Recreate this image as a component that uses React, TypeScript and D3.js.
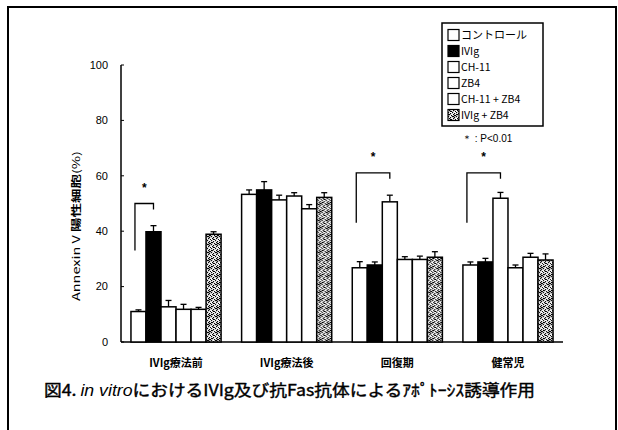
import React from "react";
import * as d3 from "d3";

const categories = ["IVIg療法前", "IVIg療法後", "回復期", "健常児"];
const seriesNames = ["コントロール", "IVIg", "CH-11", "ZB4", "CH-11 + ZB4", "IVIg + ZB4"];
// values[series][category]
const controlVals = [11, 53.3, 26.8, 27.8];
const ivigVals = [39.8, 54.9, 27.8, 28.9];
const ch11Vals = [12.7, 51.3, 50.6, 51.9];
const zb4Vals = [11.8, 52.7, 29.8, 26.8];
const ch11zb4Vals = [11.8, 48.1, 29.8, 30.6];
const ivigzb4Vals = [38.9, 52.2, 30.6, 29.6];
const controlErr = [0.6, 1.6, 2.2, 1.1];
const ivigErr = [2.2, 3.0, 1.1, 1.3];
const ch11Err = [2.3, 1.7, 2.4, 2.1];
const zb4Err = [1.8, 1.2, 1.0, 1.0];
const ch11zb4Err = [0.7, 1.5, 1.2, 1.4];
const ivigzb4Err = [0.9, 1.7, 2.0, 2.2];
const yTicks = [0, 20, 40, 60, 80, 100];
// significance: [category index, series a, series b]
const sigPairs: [number, number, number][] = [
  [0, 0, 1],
  [2, 0, 2],
  [3, 0, 2],
];
const sigLevel = [50, 60, 60];

const allVals = [controlVals, ivigVals, ch11Vals, zb4Vals, ch11zb4Vals, ivigzb4Vals];
const allErr = [controlErr, ivigErr, ch11Err, zb4Err, ch11zb4Err, ivigzb4Err];
const fills = ["#fff", "#000", "#fff", "#fff", "#fff", "url(#stip)"];

export default function App() {
  const x0 = d3
    .scaleBand<string>()
    .domain(categories)
    .range([121, 563])
    .paddingInner(0.1855)
    .paddingOuter(0.09);
  const x1 = d3
    .scaleBand<string>()
    .domain(seriesNames)
    .range([0, x0.bandwidth()])
    .padding(0);
  const y = d3.scaleLinear().domain([0, 100]).range([342, 65]);
  const jp = "'Noto Sans CJK JP', 'Noto Sans', sans-serif";
  const lat = "'Liberation Sans', Arial, sans-serif";

  const dots: [number, number][] = [
    [0, 0], [2, 1], [4, 0], [6, 1], [1, 2], [3, 3], [5, 2], [7, 3], [0, 4], [2, 5],
    [4, 4], [6, 5], [1, 6], [3, 7], [5, 6], [7, 7], [0, 2], [5, 4], [2, 7], [6, 3],
  ];

  return (
    <svg
      width={618}
      height={430}
      style={{ position: "absolute", left: 0, top: 0, background: "#fff" }}
    >
      <defs>
        <pattern id="stip" width={8} height={8} patternUnits="userSpaceOnUse">
          <rect width={8} height={8} fill="#fff" />
          {dots.map((d, i) => (
            <rect key={i} x={d[0]} y={d[1]} width={1.2} height={1.2} fill="#000" />
          ))}
        </pattern>
      </defs>
      <rect x={8} y={7} width={608} height={440} fill="none" stroke="#000" strokeWidth={2} />

      {/* axes */}
      <line x1={121} x2={121} y1={y(100)} y2={y(0)} stroke="#000" strokeWidth={1.5} />
      <line x1={121} x2={563} y1={y(0)} y2={y(0)} stroke="#000" strokeWidth={1.5} />
      {yTicks.map((t) => (
        <g key={t}>
          <line x1={121} x2={124} y1={y(t)} y2={y(t)} stroke="#000" strokeWidth={1} />
          <text x={108} y={y(t)} dy="0.35em" textAnchor="end" fontSize={11} fontFamily={lat}>
            {t}
          </text>
        </g>
      ))}
      <text
        transform={`translate(76,226) rotate(-90)`}
        textAnchor="middle"
        fontSize={10}
        fontFamily={jp}
        dy="0.35em"
        textLength={150}
        lengthAdjust="spacingAndGlyphs"
      >
        Annexin V <tspan fontWeight="bold">陽性細胞</tspan>(%)
      </text>

      {/* bars */}
      {categories.map((c, ci) => (
        <g key={c} transform={`translate(${x0(c)},0)`}>
          {seriesNames.map((s, si) => {
            const v = allVals[si][ci];
            const e = allErr[si][ci];
            const bx = x1(s)!;
            const bw = x1.bandwidth();
            const cx = bx + bw / 2;
            return (
              <g key={s}>
                <line x1={cx} x2={cx} y1={y(v)} y2={y(v + e)} stroke="#000" strokeWidth={1.3} />
                <line x1={cx - 3} x2={cx + 3} y1={y(v + e)} y2={y(v + e)} stroke="#000" strokeWidth={1.3} />
                <rect
                  x={bx}
                  y={y(v)}
                  width={bw}
                  height={y(0) - y(v)}
                  fill={fills[si]}
                  stroke="#000"
                  strokeWidth={1.5}
                />
              </g>
            );
          })}
          <text
            x={x0.bandwidth() / 2}
            y={367}
            textAnchor="middle"
            fontSize={11}
            fontWeight="bold"
            fontFamily={jp}
          >
            {c}
          </text>
        </g>
      ))}

      {/* significance brackets */}
      {sigPairs.map(([ci, a, b], i) => {
        const gx = x0(categories[ci])!;
        const xa = gx + x1(seriesNames[a])! + 4;
        const xb = gx + x1(seriesNames[b])! + x1.bandwidth() / 2;
        const top = y(sigLevel[i]) + (ci === 0 ? 0 : -3);
        const yTopA = y(sigLevel[i]) + 47;
        return (
          <g key={i}>
            <path
              d={`M${xa},${yTopA} V${top} H${xb} V${top + 6}`}
              fill="none"
              stroke="#000"
              strokeWidth={1.3}
            />
            <text x={(xa + xb) / 2} y={top - 12} textAnchor="middle" fontSize={12} fontFamily={lat} fontWeight="bold">
              *
            </text>
          </g>
        );
      })}

      {/* legend */}
      <rect x={442} y={23} width={101} height={103} fill="#fff" stroke="#000" strokeWidth={1.5} />
      {seriesNames.map((s, i) => {
        const cy = 35 + i * 16;
        return (
          <g key={s}>
            <rect x={448} y={cy - 5.5} width={11} height={11} fill={fills[i]} stroke="#000" strokeWidth={1.2} />
            <text x={461} y={cy} dy="0.35em" fontSize={i === 0 ? 11 : 10.5} fontFamily={jp}>
              {s}
            </text>
          </g>
        );
      })}
      <text x={462} y={138} dy="0.35em" fontSize={10} fontFamily={lat}>
        ＊ : P&lt;0.01
      </text>

      {/* caption */}
      <text
        x={44}
        y={390}
        dy="0.35em"
        fontSize={16}
        fontFamily={jp}
        stroke="#000"
        strokeWidth={0.4}
        textLength={491}
        lengthAdjust="spacingAndGlyphs"
      >
        図4. <tspan fontStyle="italic" strokeWidth={0} fontFamily={lat}>in vitro</tspan>におけるIVIg及び抗Fas抗体によるｱﾎﾟﾄｰｼｽ誘導作用
      </text>
    </svg>
  );
}
